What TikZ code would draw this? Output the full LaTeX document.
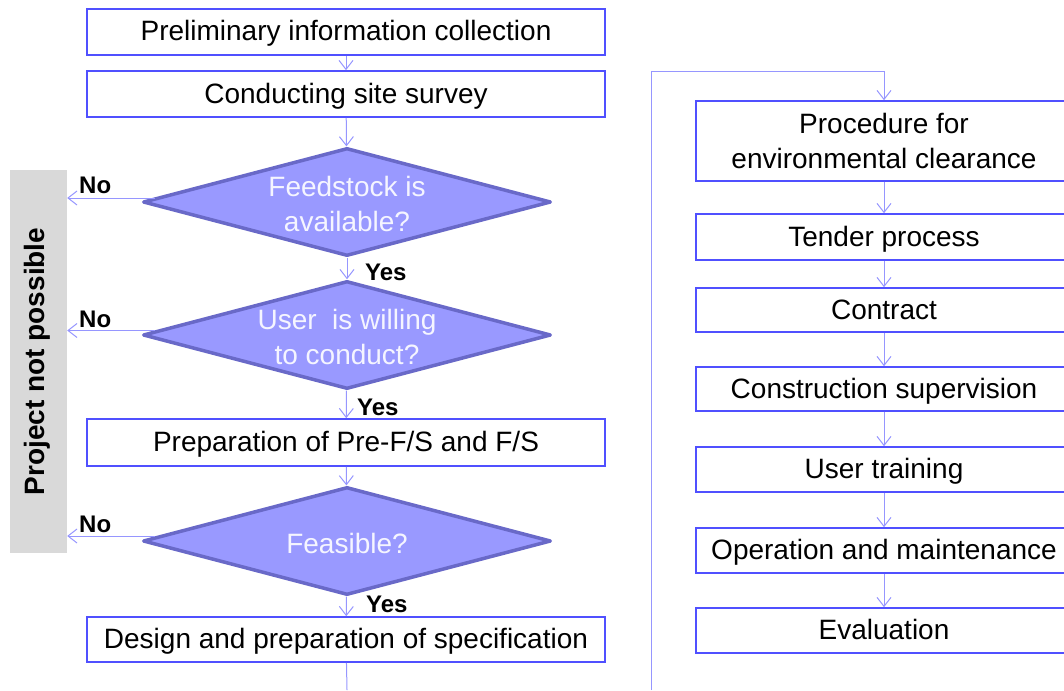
\documentclass[tikz,border=0pt]{standalone}
\usepackage{fontspec}
\setmainfont{Liberation Sans}
\usetikzlibrary{arrows.meta,shapes.geometric,calc}
\definecolor{boxblue}{RGB}{80,80,255}
\definecolor{arrblue}{RGB}{150,150,255}
\definecolor{dfill}{RGB}{153,153,255}
\definecolor{dborder}{RGB}{105,105,200}
\definecolor{greybar}{RGB}{217,217,217}
\definecolor{dtextc}{RGB}{245,245,255}
\begin{document}
\begin{tikzpicture}[x=1pt,y=-1pt,
  basebox/.style={draw=boxblue, line width=1.6pt, fill=white, minimum width=518pt, minimum height=46pt, inner sep=0pt, align=center, font=\fontsize{28}{35}\selectfont},
  box/.style={basebox, text height=21pt, text depth=3pt},
  rbox/.style={box, minimum width=376pt},
  rbox2/.style={basebox, minimum width=376pt},
  dia/.style={diamond, draw=dborder, fill=dfill, line width=3.5pt, line join=round, minimum width=408pt, minimum height=108pt, inner sep=0pt},
  dtext/.style={text=dtextc, align=center, font=\fontsize{28}{35}\selectfont, inner sep=0pt},
  lbl/.style={font=\fontsize{24}{28}\selectfont\bfseries, inner sep=0pt},
  conn/.style={draw=arrblue, line width=1pt},
  arr/.style={conn, -{Straight Barb[length=9pt,width=14pt,line width=1pt]}},
]
\useasboundingbox (0,0) rectangle (1064,690);
\clip (0,0) rectangle (1064,690);

% grey side bar
\node[fill=greybar, minimum width=57pt, minimum height=383pt, inner sep=0pt] (np) at (38.5,361.5) {};
\node[rotate=90, font=\fontsize{28}{34}\selectfont\bfseries, inner sep=0pt] (npt) at (37,361.5) {Project not possible};

% left column
\node[box] (b1) at (346,32) {Preliminary information collection};
\node[box] (b2) at (346,94) {Conducting site survey};
\node[dia] (d1) at (347,202) {};
\node[dtext] (d1t) at (347,204) {Feedstock is\\available?};
\node[dia] (d2) at (347,335) {};
\node[dtext] (d2t) at (347,337) {User\ \ is willing\\to conduct?};
\node[box, minimum height=47pt] (b3) at (346,442.5) {Preparation of Pre-F/S and F/S};
\node[dia] (d3) at (347,541) {};
\node[dtext] (d3t) at (347,543) {Feasible?};
\node[box, minimum height=45pt] (b4) at (346,639.5) {Design and preparation of specification};

% right column
\node[rbox2, minimum height=80pt] (r1) at (884,141) {Procedure for\\environmental clearance};
\node[rbox] (r2) at (884,237) {Tender process};
\node[rbox, minimum height=44pt] (r3) at (884,310) {Contract};
\node[rbox, minimum height=44pt] (r4) at (884,389) {Construction supervision};
\node[rbox, minimum height=45pt] (r5) at (884,469.5) {User training};
\node[rbox, minimum height=45pt] (r6) at (884,550.5) {Operation and maintenance};
\node[rbox, minimum height=45pt] (r7) at (884,630.5) {Evaluation};

% vertical flow arrows, left
\draw[arr] (b1) -- (b2);
\draw[arr] (b2) -- (d1);
\draw[arr] (d1) -- (d2);
\draw[arr] (d2) -- (b3);
\draw[arr] (b3) -- (d3);
\draw[arr] (d3) -- (b4);

% No branches
\coordinate (n1a) at ([xshift=14pt,yshift=4pt]d1.west);
\coordinate (n2a) at ([xshift=14pt,yshift=4.5pt]d2.west);
\coordinate (n3a) at ([xshift=14pt,yshift=5pt]d3.west);
\draw[arr] (n1a) -- (n1a -| np.east);
\draw[arr] (n2a) -- (n2a -| np.east);
\draw[arr] (n3a) -- (n3a -| np.east);
\node[lbl, anchor=base west] (no1) at (79,193) {No};
\node[lbl, anchor=base west] (no2) at (79,327) {No};
\node[lbl, anchor=base west] (no3) at (79,532) {No};

% Yes labels
\node[lbl, anchor=base west] (yes1) at (365,280) {Yes};
\node[lbl, anchor=base west] (yes2) at (357,415) {Yes};
\node[lbl, anchor=base west] (yes3) at (366,612) {Yes};

% loop connector to right column
\coordinate (lb) at (347,690);
\coordinate (rb) at (651,690);
\coordinate (rt) at (651,72);
\draw[conn] (b4) -- (lb);
\draw[arr] (rb) -- (rt) -- (rt -| r1) -- (r1);

% vertical flow arrows, right
\draw[arr] (r1) -- (r2);
\draw[arr] (r2) -- (r3);
\draw[arr] (r3) -- (r4);
\draw[arr] (r4) -- (r5);
\draw[arr] (r5) -- (r6);
\draw[arr] (r6) -- (r7);
\end{tikzpicture}
\end{document}
